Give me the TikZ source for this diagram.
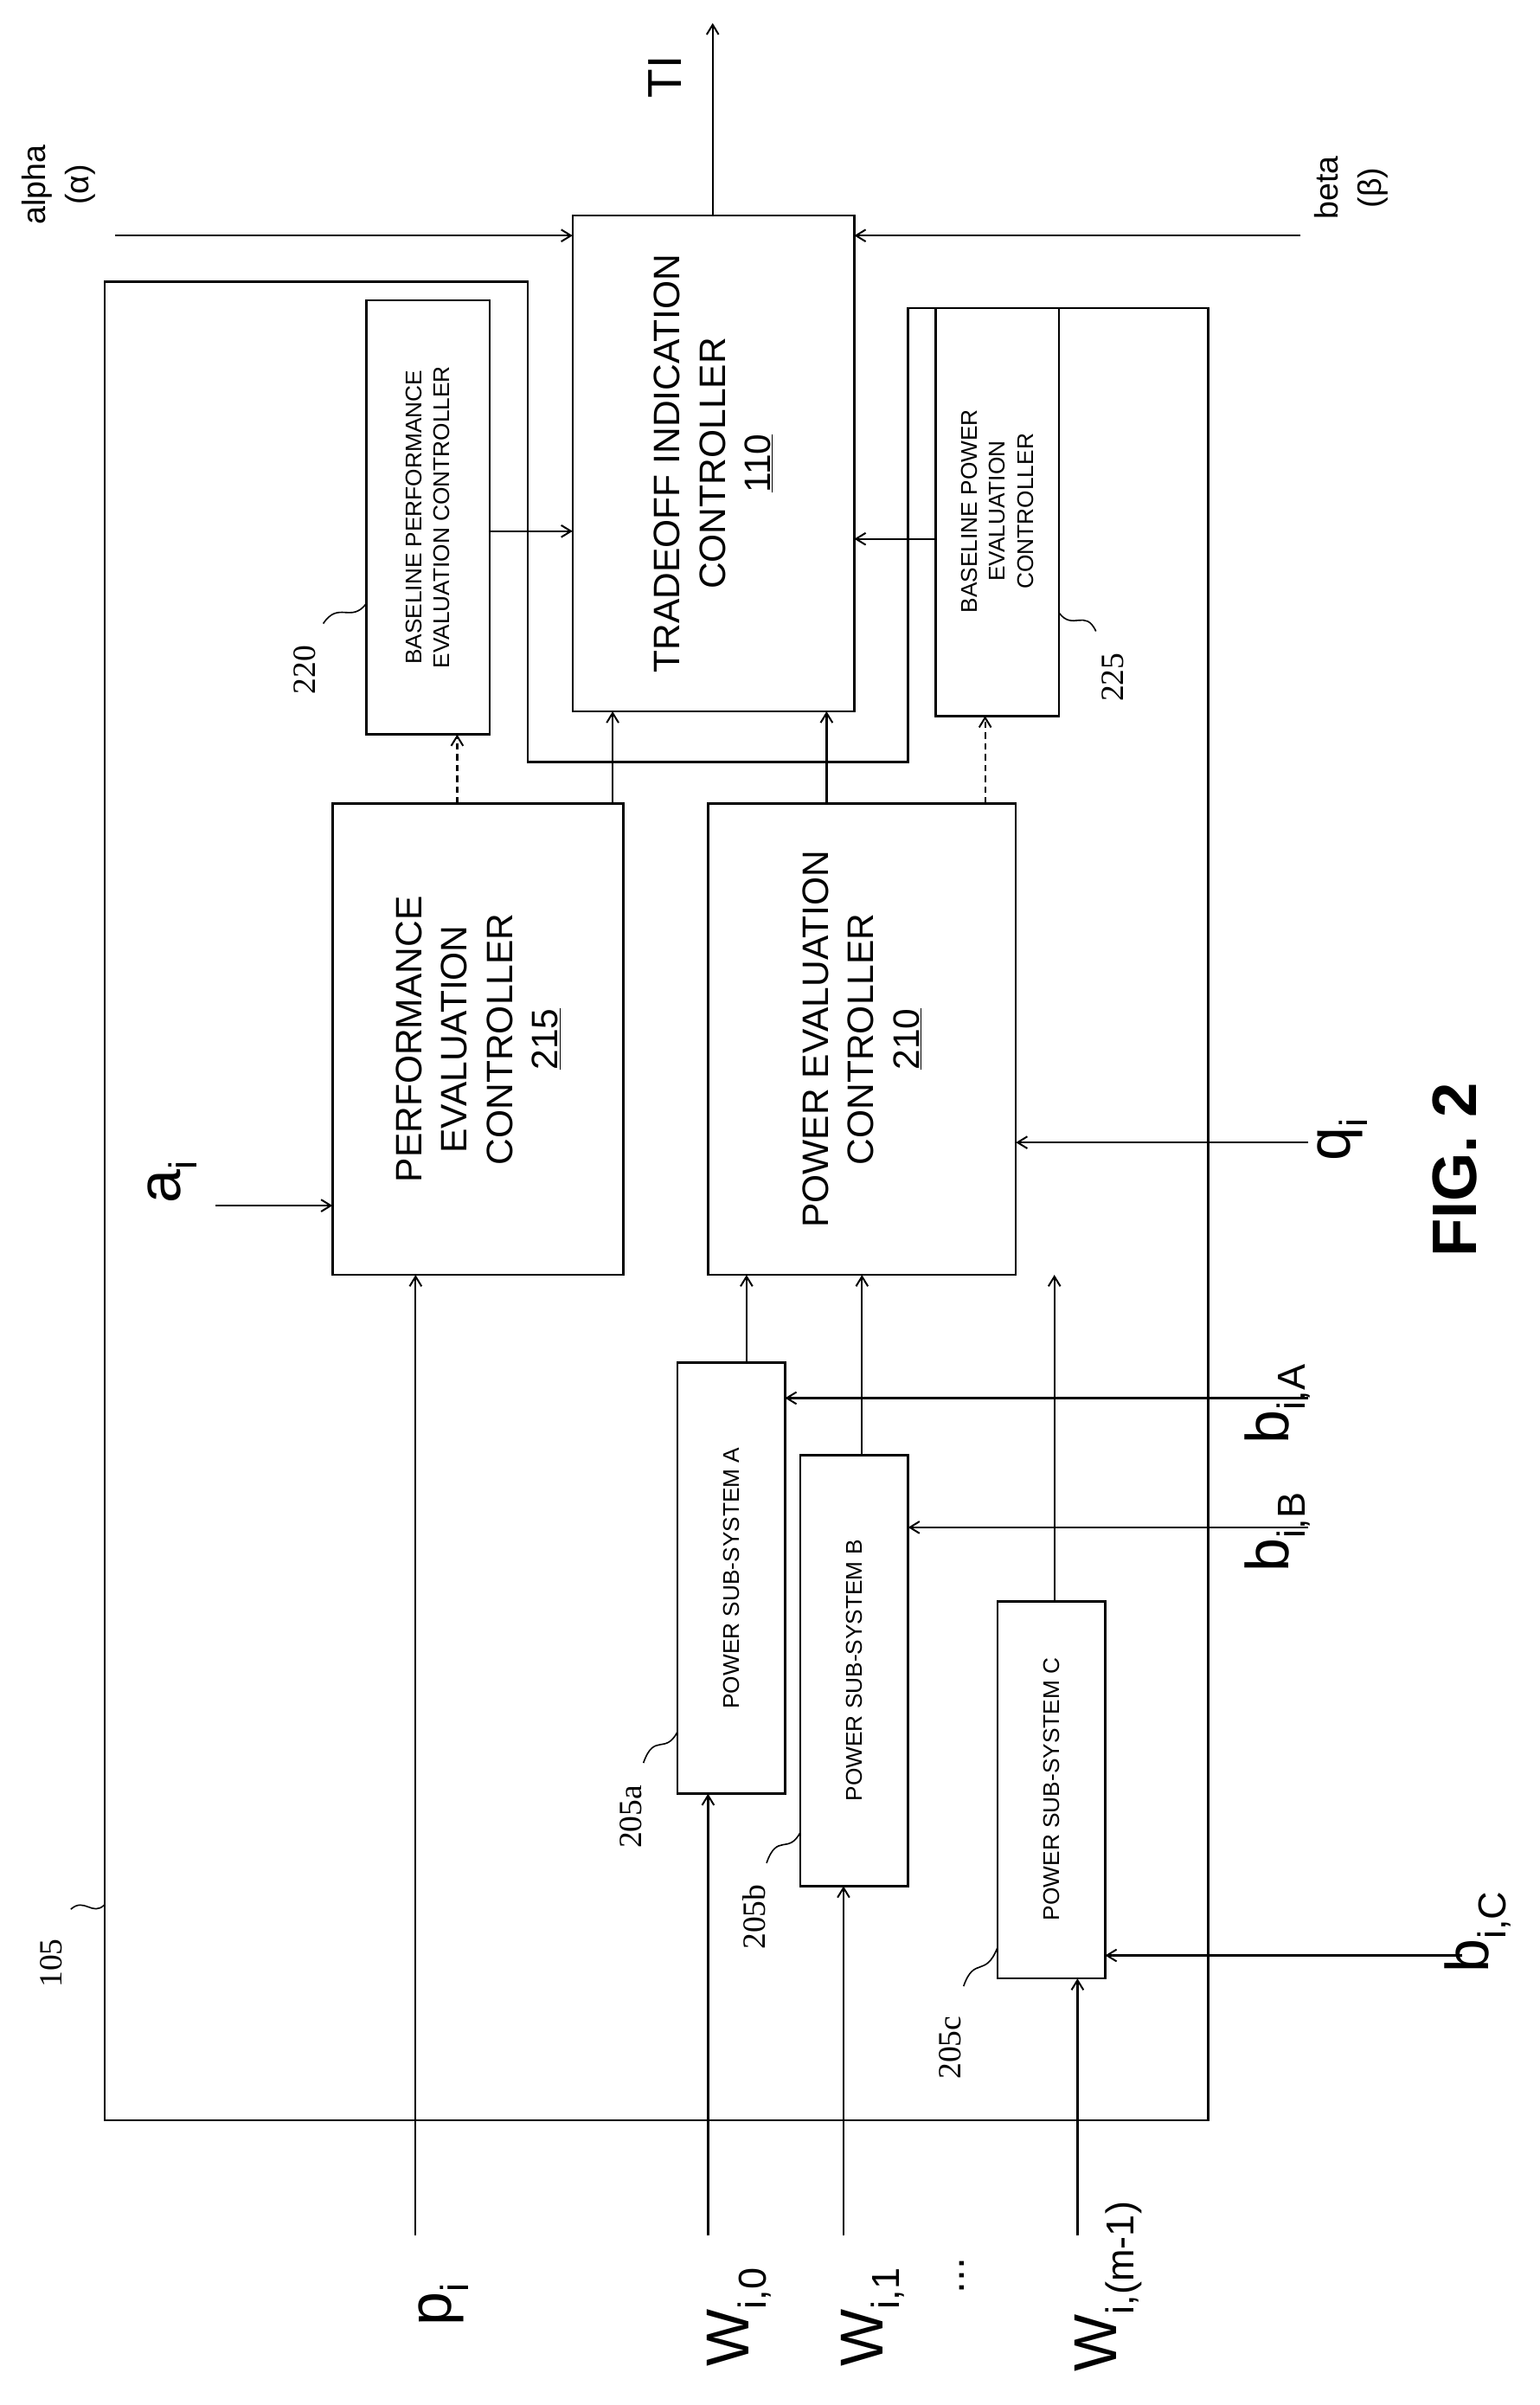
\documentclass[tikz,border=0pt]{standalone}
\usepackage{fontspec}
\setmainfont{Liberation Sans}
\newfontfamily\refont{Liberation Serif}
\usetikzlibrary{arrows.meta}
\newcommand{\sbx}[1]{\raisebox{-0.28em}{\fontsize{36}{38}\selectfont #1}}
\begin{document}
\begin{tikzpicture}[x=0.05cm,y=-0.05cm,line width=1.8pt,
  arr/.style={-{Straight Barb[length=9pt,width=11pt,line width=1.6pt]}},
  dots/.style={arr,dash pattern=on 6pt off 4pt},
  box/.style={draw,line width=2pt},
  bt/.style={rotate=90,align=center,font=\fontsize{34}{42}\selectfont},
  st/.style={rotate=90,align=center,font=\fontsize{21}{26}\selectfont},
  lab/.style={rotate=90,font=\fontsize{56}{60}\selectfont},
  rf/.style={rotate=90,font=\refont\fontsize{30}{32}\selectfont},
  sq/.style={line width=1.3pt}]
\useasboundingbox (0,0) rectangle (1000,1562);
% outer boundary 105
\draw[box] (68,183) -- (343,183) -- (343,495) -- (590,495) -- (590,200) -- (785,200) -- (785,1377) -- (68,1377) -- cycle;
% boxes
\draw[box] (372,140) rectangle (555,462);
\node[bt] (tic) at (463.5,301) {TRADEOFF INDICATION\\CONTROLLER\\\underline{110}};
\draw[box] (238,195) rectangle (318,477);
\node[st] (bpe) at (278,336) {BASELINE PERFORMANCE\\EVALUATION CONTROLLER};
\draw[box] (608,200) rectangle (688,465);
\node[st] (bpw) at (648,332) {BASELINE POWER\\EVALUATION\\CONTROLLER};
\draw[box] (216,522) rectangle (405,828);
\node[bt] (pec) at (310.5,675) {PERFORMANCE\\EVALUATION\\CONTROLLER\\\underline{215}};
\draw[box] (460,522) rectangle (660,828);
\node[bt] (pwc) at (560,675) {POWER EVALUATION\\CONTROLLER\\\underline{210}};
\draw[box] (440,885) rectangle (510,1165);
\node[st] (sa) at (475,1025) {POWER SUB-SYSTEM A};
\draw[box] (520,945) rectangle (590,1225);
\node[st] (sb) at (555,1085) {POWER SUB-SYSTEM B};
\draw[box] (648,1040) rectangle (718,1285);
\node[st] (sc) at (683,1162) {POWER SUB-SYSTEM C};
% coordinates
\coordinate (ta) at (75,153); \coordinate (tb) at (845,153);
\coordinate (ti0) at (463,140); \coordinate (ti1) at (463,15);
% arrows to 110
\draw[arr] (ta) -- (372,153);
\draw[arr] (tb) -- (555,153);
\draw[arr] (ti0) -- (ti1);
\draw[arr] (318,345) -- (372,345);
\draw[arr] (608,350) -- (555,350);
\draw[arr] (398,522) -- (398,462);
\draw[arr] (537,522) -- (537,462);
\draw[dots] (297,522) -- (297,477);
\draw[dots] (640,522) -- (640,465);
% inputs
\draw[arr] (140,783) -- (216,783);
\draw[arr] (270,1452) -- (270,828);
\draw[arr] (850,742) -- (660,742);
\draw[arr] (485,885) -- (485,828);
\draw[arr] (560,945) -- (560,828);
\draw[arr] (685,1040) -- (685,828);
\draw[arr] (850,908) -- (510,908);
\draw[arr] (850,992) -- (590,992);
\draw[arr] (950,1270) -- (718,1270);
\draw[arr] (460,1452) -- (460,1165);
\draw[arr] (548,1452) -- (548,1225);
\draw[arr] (700,1452) -- (700,1285);
% labels
\node[rotate=90,align=center,font=\fontsize{30}{40}\selectfont] (la) at (38,120) {alpha\\(α)};
\node[rotate=90,align=center,font=\fontsize{30}{40}\selectfont] (lb) at (878,122) {beta\\(β)};
\node[rotate=90,font=\fontsize{44}{48}\selectfont] (lti) at (432,50) {TI};
\node[lab] (lai) at (112,768) {a\sbx{i}};
\node[lab] (lpi) at (288,1497) {p\sbx{i}};
\node[lab] (lqi) at (872,740) {q\sbx{i}};
\node[lab] (lba) at (830,912) {b\sbx{i,A}};
\node[lab] (lbb) at (830,995) {b\sbx{i,B}};
\node[lab] (lbc) at (960,1255) {b\sbx{i,C}};
\node[lab] (lw0) at (480,1505) {W\sbx{i,0}};
\node[lab] (lw1) at (567,1505) {W\sbx{i,1}};
\node[lab] (lw2) at (720,1485) {W\sbx{i,(m-1)}};
\node[rotate=90,font=\fontsize{40}{44}\selectfont] (ldots) at (625,1478) {...};
\node[rotate=90,font=\bfseries\fontsize{58}{60}\selectfont] (fig) at (945,760) {FIG. 2};
% reference numerals
\node[rf] (r105) at (33,1275) {105};
\draw[sq] (46,1240) .. controls (55,1232) and (60,1245) .. (68,1237);
\node[rf] (r205a) at (410,1180) {205a};
\draw[sq] (418,1145) .. controls (425,1125) and (432,1140) .. (440,1125);
\node[rf] (r205b) at (490,1245) {205b};
\draw[sq] (498,1210) .. controls (505,1190) and (512,1205) .. (520,1190);
\node[rf] (r205c) at (617,1330) {205c};
\draw[sq] (626,1290) .. controls (633,1270) and (640,1285) .. (648,1265);
\node[rf] (r220) at (198,435) {220};
\draw[sq] (210,405) .. controls (220,390) and (228,405) .. (238,392);
\node[rf] (r225) at (723,440) {225};
\draw[sq] (712,410) .. controls (705,395) and (697,410) .. (688,398);
\end{tikzpicture}
\end{document}
